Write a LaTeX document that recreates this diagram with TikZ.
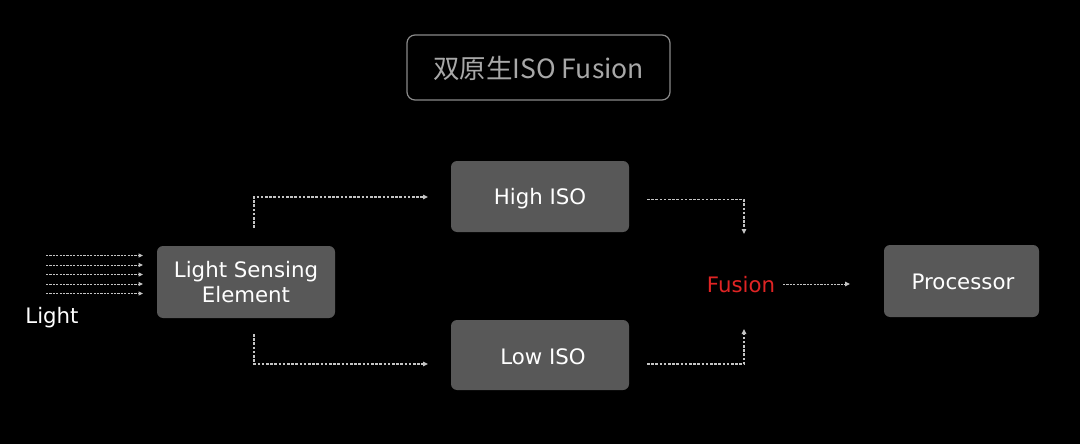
\documentclass[tikz,border=0pt]{standalone}
\usepackage{fontspec}
\setmainfont{DejaVu Sans}
\newfontfamily\cjk{Noto Sans CJK SC}
\usetikzlibrary{arrows.meta}
\definecolor{boxfill}{HTML}{585858}
\definecolor{titlegray}{HTML}{A8A8A8}
\definecolor{framegray}{HTML}{8A8A8A}
\definecolor{flowgray}{HTML}{C4C4C4}
\definecolor{fusionred}{HTML}{E02424}
\tikzset{
  stagebox/.style={draw=none, fill=boxfill, rounded corners=6pt, text=white,
    font=\fontsize{21.3}{25}\selectfont, align=center, inner sep=0pt},
  oneline/.style={text depth=0pt},
  flow/.style={draw=flowgray, line width=1.3pt, dash pattern=on 2.6pt off 1.6pt,
    -{Triangle[length=5pt,width=4.5pt]}},
  lightray/.style={draw=flowgray, line width=1pt, dash pattern=on 2.2pt off 1.2pt,
    -{Triangle[length=4.5pt,width=4pt]}},
}
\begin{document}
\begin{tikzpicture}[x=1pt,y=-1pt]
\fill[black] (0,0) rectangle (1080,444);
\useasboundingbox (0,0) rectangle (1080,444);

\node[draw=framegray, line width=1.2pt, rounded corners=8pt, minimum width=263pt,
  minimum height=65pt, inner sep=0pt, text=titlegray, oneline,
  font=\cjk\fontsize{26.5}{30}\selectfont] (title) at (538.5,67.5) {\raisebox{1pt}{双原生ISO Fusion}};

\node[stagebox, minimum width=178pt, minimum height=72pt] (lse) at (246,282)
  {Light Sensing\\Element};
\node[stagebox, oneline, minimum width=178pt, minimum height=71pt] (high) at (540,196.5) {High ISO};
\node[stagebox, oneline, minimum width=178pt, minimum height=70pt] (low) at (540,355) {\hspace{6pt}\raisebox{-4pt}{Low ISO}};
\node[stagebox, oneline, minimum width=155pt, minimum height=72pt] (proc) at (961.5,281) {\hspace{3pt}\raisebox{-2pt}{Processor}};
\node[text=fusionred, oneline, font=\fontsize{21.3}{25}\selectfont, inner sep=0pt] (fusion) at (741,284) {Fusion};
\node[text=white, oneline, font=\fontsize{21.3}{25}\selectfont, inner sep=0pt] (light) at (52,315) {Light};

% light rays
\foreach \i/\yy in {1/255.5,2/265,3/274.5,4/284,5/293.5}{
  \coordinate (r\i a) at (46,\yy);
  \coordinate (r\i b) at (143,\yy);
  \draw[lightray] (r\i a) -- (r\i b);
}

% branches
\coordinate (ua) at (254,228);
\coordinate (ub) at (428,197);
\draw[flow] (ua) |- (ub);
\coordinate (la) at (254,334);
\coordinate (lb) at (428,364);
\draw[flow] (la) |- (lb);

\coordinate (ha) at (647,199.5);
\coordinate (hb) at (744,234);
\draw[flow] (ha) -| (hb);
\coordinate (lo) at (647,364);
\coordinate (lc) at (744,329);
\draw[flow] (lo) -| (lc);

\coordinate (fa) at (783,284);
\coordinate (fb) at (850,284);
\draw[flow, line width=1pt, dash pattern=on 2.2pt off 1.2pt] (fa) -- (fb);
\end{tikzpicture}
\end{document}
